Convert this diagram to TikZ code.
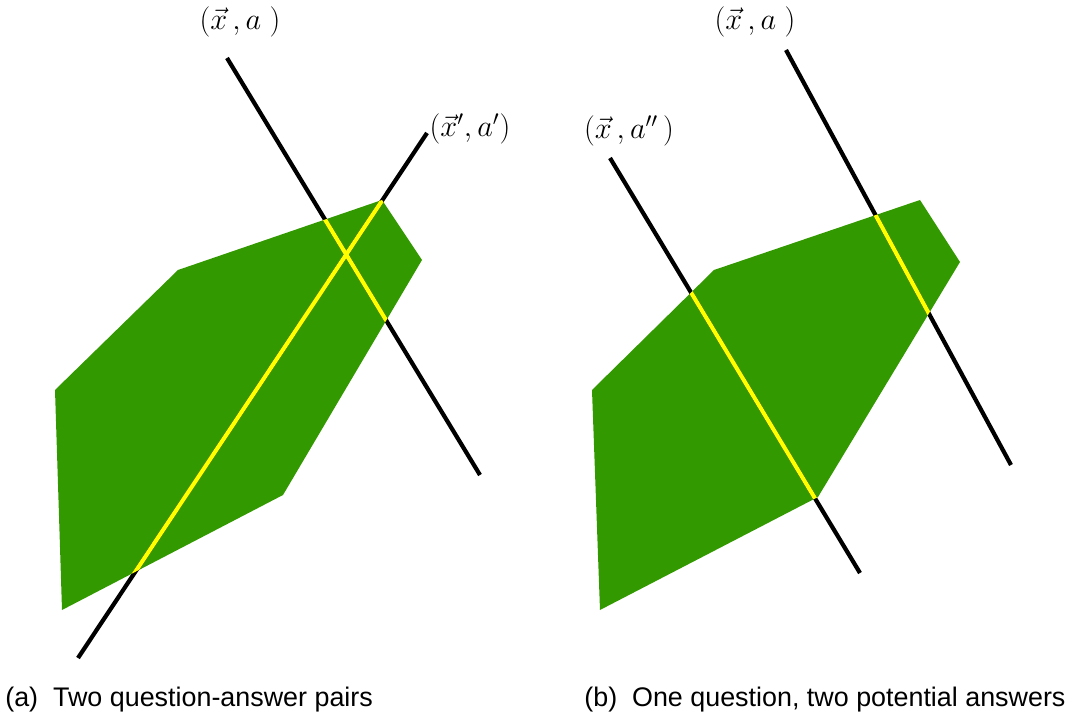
\documentclass[tikz,border=0pt]{standalone}
\usepackage{fontspec}
\newfontfamily\capfont{Liberation Sans}
\usepackage{amsmath}
\definecolor{polygreen}{RGB}{51,153,0}
\definecolor{ansyellow}{RGB}{255,255,0}
\tikzset{
  region/.style={fill=polygreen, draw=none},
  pairline/.style={line width=2.4pt, black},
  inline/.style={line width=2.4pt, ansyellow},
  lab/.style={inner sep=0pt, font=\fontsize{17.5}{21}\selectfont},
  captext/.style={inner sep=0pt, anchor=west, font=\capfont\fontsize{15.3}{18}\selectfont}
}
\begin{document}
\begin{tikzpicture}[x=0.02cm,y=-0.02cm]
\useasboundingbox (0,0) rectangle (1066,726);
% ---------- panel (a) ----------
\coordinate (a1s) at (227,58);
\coordinate (a1e) at (480,475);
\coordinate (a2s) at (78,658);
\coordinate (a2e) at (427,133);
\fill[region] (62,610) -- (55,390) -- (178,270) -- (382,200) -- (422,260) -- (283,495) -- cycle;
\draw[pairline] (a1s) -- (a1e);
\draw[pairline] (a2s) -- (a2e);
\begin{scope}
  \clip (62,610) -- (55,390) -- (178,270) -- (382,200) -- (422,260) -- (283,495) -- cycle;
  \draw[inline] (a1s) -- (a1e);
  \draw[inline] (a2s) -- (a2e);
\end{scope}
\node[lab] (la1) at (240,22) {$(\vec{x}\,,a\;)$};
\node[lab] (la2) at (470,129) {$(\vec{x}',a')$};
\node[captext] (capa) at (5,700) {(a)\ \ Two question-answer pairs};
% ---------- panel (b) ----------
\coordinate (b1s) at (786,50);
\coordinate (b1e) at (1011,465);
\coordinate (b2s) at (610,158);
\coordinate (b2e) at (860,573);
\fill[region] (600,610) -- (592,390) -- (714,270) -- (920,200) -- (960,262) -- (818,497) -- cycle;
\draw[pairline] (b1s) -- (b1e);
\draw[pairline] (b2s) -- (b2e);
\begin{scope}
  \clip (600,610) -- (592,390) -- (714,270) -- (920,200) -- (960,262) -- (818,497) -- cycle;
  \draw[inline] (b1s) -- (b1e);
  \draw[inline] (b2s) -- (b2e);
\end{scope}
\node[lab] (lb1) at (755,22) {$(\vec{x}\,,a\;)$};
\node[lab] (lb2) at (629,131) {$(\vec{x}\,,a''\,)$};
\node[captext] (capb) at (584,700) {(b)\ \ One question,\ two potential answers};
\end{tikzpicture}
\end{document}
